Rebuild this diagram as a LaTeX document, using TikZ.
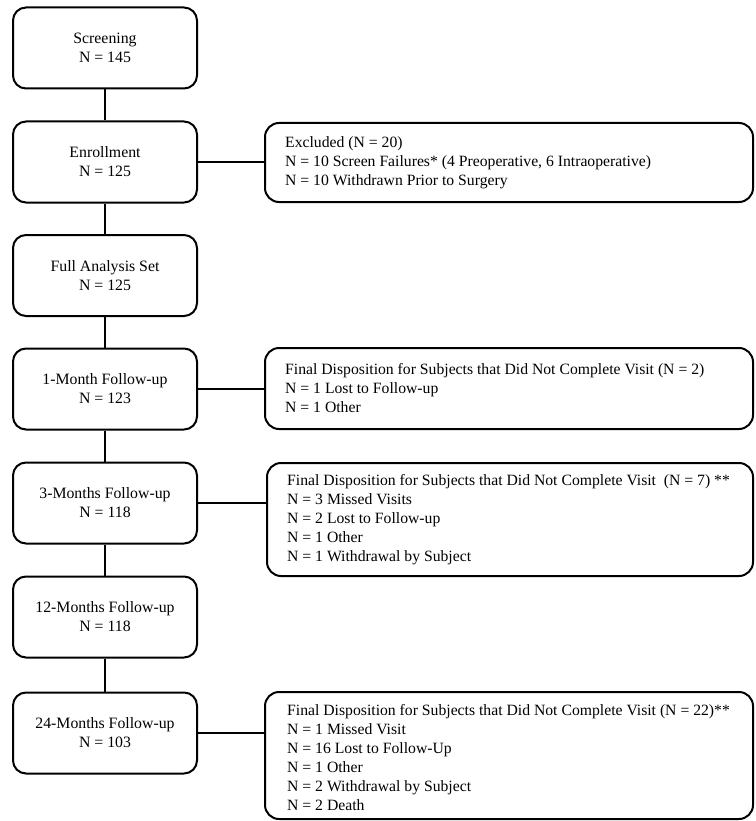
\documentclass[tikz,border=0pt]{standalone}
\usepackage{fontspec}
\setmainfont{Liberation Serif}
\begin{document}
\begin{tikzpicture}[x=1pt,y=-1pt,
  lbox/.style={draw=black, line width=2pt, rounded corners=13pt, minimum width=184pt, minimum height=81pt, align=center, inner sep=0pt, font=\fontsize{15.8}{19}\selectfont},
  rbox/.style={draw=black, line width=2pt, rounded corners=14pt, inner sep=0pt},
  rtext/.style={align=left, inner sep=0pt, anchor=west, font=\fontsize{15.7}{19}\selectfont},
  conn/.style={draw=black, line width=1.3pt}]
\useasboundingbox (0,0) rectangle (755,821);
% left column
\node[lbox] (scr) at (105,48) {Screening\\N = 145};
\node[lbox] (enr) at (105,162) {Enrollment\\N = 125};
\node[lbox] (fas) at (105,275.5) {Full Analysis Set\\N = 125};
\node[lbox] (m1) at (105,389) {1-Month Follow-up\\N = 123};
\node[lbox] (m3) at (105,503) {3-Months Follow-up\\N = 118};
\node[lbox] (m12) at (105,617) {12-Months Follow-up\\N = 118};
\node[lbox] (m24) at (105,733) {24-Months Follow-up\\N = 103};
% right column boxes
\node[rbox, minimum width=488pt, minimum height=79pt] (ex) at (509,162.5) {};
\node[rbox, minimum width=488pt, minimum height=81pt] (d1) at (509,388.5) {};
\node[rbox, minimum width=486pt, minimum height=113pt] (d3) at (510,519.5) {};
\node[rbox, minimum width=488pt, minimum height=127pt] (d24) at (509,755.5) {};
% right texts
\node[rtext] (ext) at (285,162.5) {Excluded (N = 20)\\N = 10 Screen Failures* (4 Preoperative, 6 Intraoperative)\\N = 10 Withdrawn Prior to Surgery};
\node[rtext] (d1t) at (285,388.5) {Final Disposition for Subjects that Did Not Complete Visit (N = 2)\\N = 1 Lost to Follow-up\\N = 1 Other};
\node[rtext] (d3t) at (287,519.5) {Final Disposition for Subjects that Did Not Complete Visit\ \ (N = 7) **\\N = 3 Missed Visits\\N = 2 Lost to Follow-up\\N = 1 Other\\N = 1 Withdrawal by Subject};
\node[rtext] (d24t) at (287,757.5) {Final Disposition for Subjects that Did Not Complete Visit (N = 22)**\\N = 1 Missed Visit\\N = 16 Lost to Follow-Up\\N = 1 Other\\N = 2 Withdrawal by Subject\\N = 2 Death};
% vertical connectors
\draw[conn] (scr) -- (enr);
\draw[conn] (enr) -- (fas);
\draw[conn] (fas) -- (m1);
\draw[conn] (m1) -- (m3);
\draw[conn] (m3) -- (m12);
\draw[conn] (m12) -- (m24);
% horizontal connectors
\draw[conn] (enr.east) -- (enr.east -| ex.west);
\draw[conn] (m1.east) -- (m1.east -| d1.west);
\draw[conn] (m3.east) -- (m3.east -| d3.west);
\draw[conn] (m24.east) -- (m24.east -| d24.west);
\end{tikzpicture}
\end{document}
